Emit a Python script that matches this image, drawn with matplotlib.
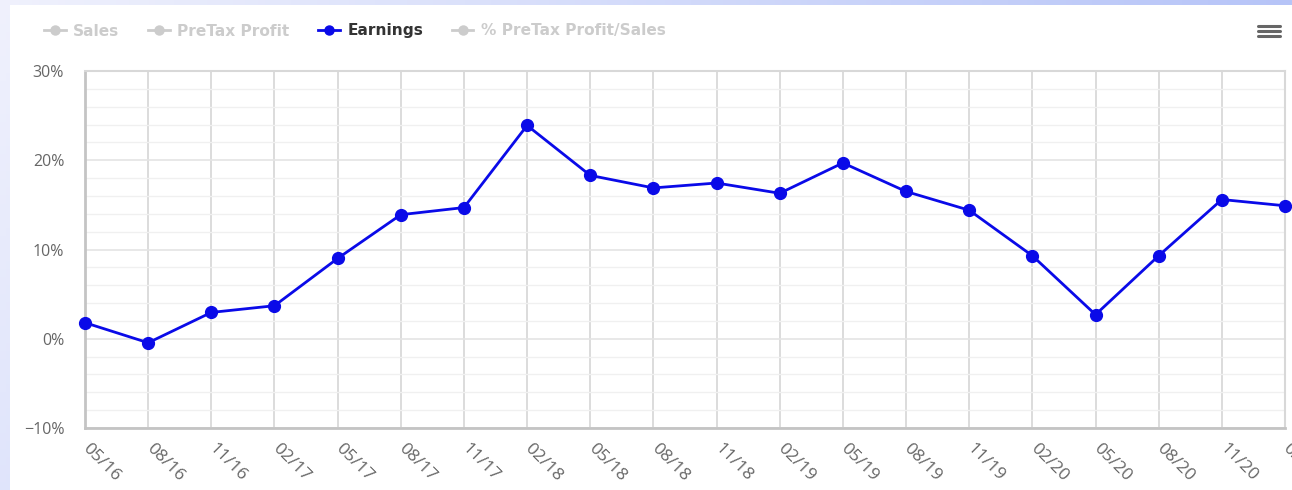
import numpy as np
import matplotlib
matplotlib.use("Agg")
import matplotlib.pyplot as plt
import matplotlib.transforms as mtransforms
from matplotlib.lines import Line2D
from matplotlib.patches import Rectangle
from matplotlib.ticker import FixedLocator, MultipleLocator

plt.rcParams['font.family'] = ['Liberation Sans Narrow', 'DejaVu Sans']

# quarter labels and earnings growth (%)
quarters = ['05/16', '08/16', '11/16', '02/17', '05/17', '08/17', '11/17', '02/18',
            '05/18', '08/18', '11/18', '02/19', '05/19', '08/19', '11/19', '02/20',
            '05/20', '08/20', '11/20', '02/21']
earnings = [1.8, -0.45, 2.95, 3.7, 9.0, 13.9, 14.7, 23.9, 18.3, 16.9,
            17.45, 16.3, 19.7, 16.5, 14.4, 9.3, 2.7, 9.3, 15.6, 14.9]

series_names = ['Sales', 'PreTax Profit', 'Earnings', '% PreTax Profit/Sales']
series_visible = [False, False, True, False]

y_ticks = [-10, 0, 10, 20, 30]
y_labels = ['\u221210%', '0%', '10%', '20%', '30%']

W, H = 1292, 490
fig = plt.figure(figsize=(W / 100, H / 100), dpi=100)

# bluish page background with gradient, white panel on top
bg = fig.add_axes([0, 0, 1, 1], zorder=-10)
xs = np.linspace(0, 1, 200)
ys = np.linspace(0, 1, 60)
gx, gy = np.meshgrid(xs, ys)
t = np.clip(0.9 * gx + 0.25 * gy, 0, 1)[..., None]
c0 = np.array([0.94, 0.945, 0.99])
c1 = np.array([0.69, 0.75, 0.97])
bg.imshow(c0 * (1 - t) + c1 * t, extent=[0, 1, 0, 1], aspect='auto', origin='upper')
bg.set_xlim(0, 1)
bg.set_ylim(0, 1)
bg.axis('off')
fig.add_artist(Rectangle((10 / W, 0), 1 - 10 / W, 1 - 5 / H, transform=fig.transFigure,
                         facecolor='white', edgecolor='none', zorder=-5))

ax = fig.add_axes([85 / W, (H - 428) / H, 1200 / W, 357 / H])
x = np.arange(len(quarters))
ax.plot(x, earnings, color='#0a0ae8', lw=2.0, marker='o', ms=8.5, clip_on=False, zorder=5)

ax.set_xlim(0, len(quarters) - 1)
ax.set_ylim(-10, 30)
ax.yaxis.set_minor_locator(MultipleLocator(2))
ax.tick_params(axis='both', which='both', length=0)
ax.tick_params(axis='y', pad=15)
ax.tick_params(axis='x', pad=9)

ax.xaxis.set_major_locator(FixedLocator(x))
ax.set_xticklabels(quarters, rotation=-45, ha='left', va='top', rotation_mode='anchor',
                   color='#666666', fontsize=12.5, family=['Open Sans', 'DejaVu Sans'])
# nudge the slanted labels right so they start at the tick like the original
shift = mtransforms.ScaledTranslation(6 / 100, 0, fig.dpi_scale_trans)
for lbl in ax.get_xticklabels():
    lbl.set_transform(lbl.get_transform() + shift)
ax.yaxis.set_major_locator(FixedLocator(y_ticks))
ax.set_yticklabels(y_labels, color='#666666', fontsize=11.5, family=['Open Sans', 'DejaVu Sans'])

ax.grid(axis='x', which='major', color='#d6d6d6', lw=1.2)
ax.grid(axis='y', which='major', color='#e4e4e4', lw=1.2)
ax.grid(axis='y', which='minor', color='#f0f0f0', lw=1.0)
ax.set_axisbelow(True)
for side in ['left', 'bottom']:
    ax.spines[side].set_color('#c4c4c4')
    ax.spines[side].set_linewidth(2)
for side in ['top', 'right']:
    ax.spines[side].set_color('#d8d8d8')
    ax.spines[side].set_linewidth(1.5)

# legend along the top
handles = []
for name, vis in zip(series_names, series_visible):
    col = '#0a0ae8' if vis else '#cccccc'
    handles.append(Line2D([], [], color=col, lw=2, marker='o', ms=6.5))
leg = fig.legend(handles, series_names, loc='center left', bbox_to_anchor=(44 / W, 1 - 31 / H),
                 ncol=4, frameon=False, fontsize=11.1, handlelength=1.4, handletextpad=0.5,
                 columnspacing=1.85, borderaxespad=0, borderpad=0)
for txt, vis in zip(leg.get_texts(), series_visible):
    txt.set_color('#333333' if vis else '#cccccc')
    txt.set_fontweight('bold')

# menu icon
for yy in [26, 31, 36]:
    fig.add_artist(Line2D([1258 / W, 1280 / W], [1 - yy / H, 1 - yy / H], transform=fig.transFigure,
                          color='#666666', lw=2.2, solid_capstyle='round'))

fig.savefig('out.png', dpi=100)
